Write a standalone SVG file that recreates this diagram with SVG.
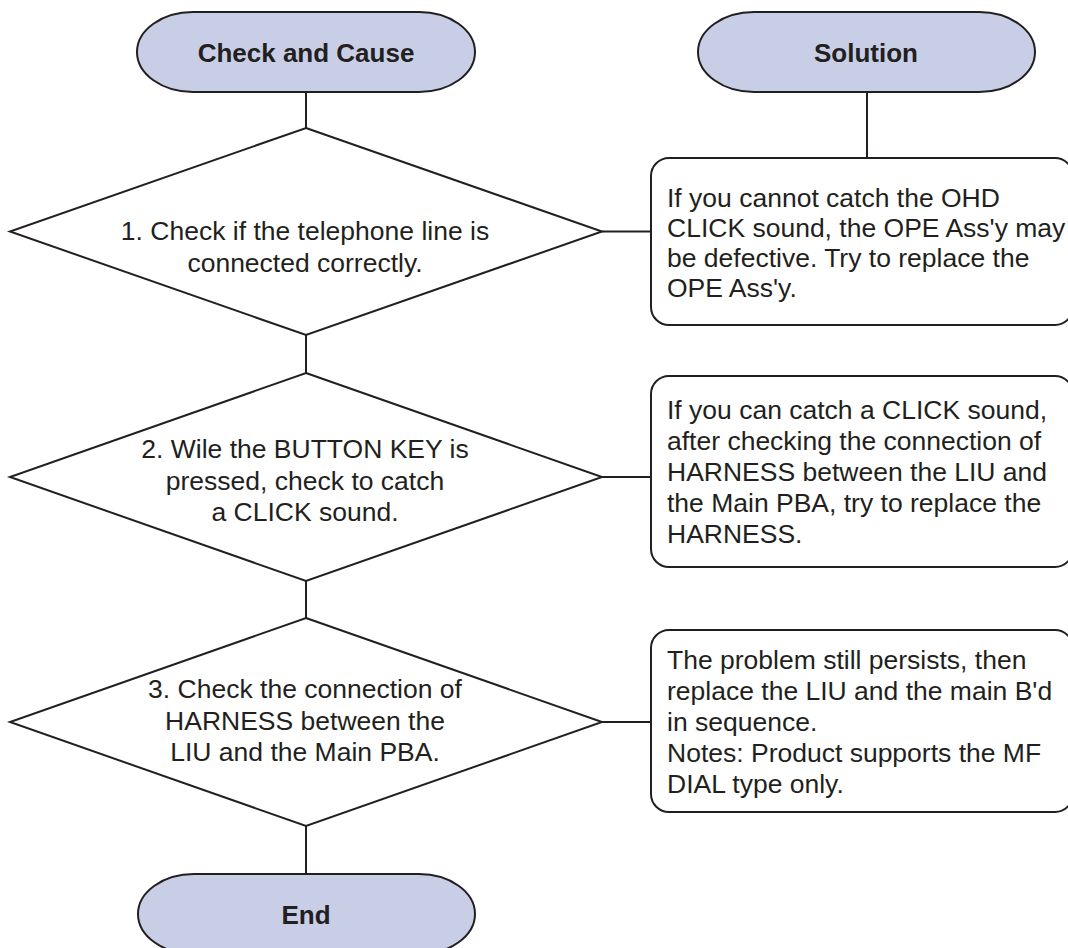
<svg xmlns="http://www.w3.org/2000/svg" width="1068" height="948" viewBox="0 0 1068 948">
<style>
.term{fill:#c9cee7;stroke:#231f20;stroke-width:2}
.dia{fill:#ffffff;stroke:#231f20;stroke-width:2}
.box{fill:#ffffff;stroke:#231f20;stroke-width:2}
.conn line{stroke:#231f20;stroke-width:2}
.tt{font-family:"Liberation Sans",Arial,sans-serif;font-weight:bold;font-size:26px;fill:#231f20;text-anchor:middle}
.bt{font-family:"Liberation Sans",Arial,sans-serif;font-size:26.5px;fill:#231f20}
.mid{text-anchor:middle}
</style>
<rect width="1068" height="948" fill="#ffffff"/>
<g class="conn" id="connectors">
<line x1="306" y1="92" x2="306" y2="128"/>
<line x1="867" y1="92" x2="867" y2="158"/>
<line x1="306" y1="335" x2="306" y2="373"/>
<line x1="306" y1="581" x2="306" y2="618"/>
<line x1="306" y1="826" x2="306" y2="874"/>
<line x1="602" y1="231.5" x2="651" y2="231.5"/>
<line x1="602" y1="477" x2="651" y2="477"/>
<line x1="602" y1="722" x2="651" y2="722"/>
</g>
<g id="start">
<rect class="term" x="137" y="12" width="338" height="80" rx="56" ry="40"/>
<text class="tt" x="306" y="62">Check and Cause</text>
</g>
<g id="solution">
<rect class="term" x="698" y="12" width="337" height="80" rx="56" ry="40"/>
<text class="tt" x="866" y="62">Solution</text>
</g>
<g id="check1">
<polygon class="dia" points="306,128 602,231.5 306,335 10,231.5"/>
<text class="bt mid" x="305" y="240">1. Check if the telephone line is</text>
<text class="bt mid" x="305" y="271.5">connected correctly.</text>
</g>
<g id="solution1">
<rect class="box" x="651" y="158" width="422" height="167" rx="18" ry="18"/>
<text class="bt" x="667" y="207">If you cannot catch the OHD</text>
<text class="bt" x="667" y="237">CLICK sound, the OPE Ass'y may</text>
<text class="bt" x="667" y="267">be defective. Try to replace the</text>
<text class="bt" x="667" y="297">OPE Ass'y.</text>
</g>
<g id="check2">
<polygon class="dia" points="306,373 602,477 306,581 10,477"/>
<text class="bt mid" x="305" y="458">2. Wile the BUTTON KEY is</text>
<text class="bt mid" x="305" y="489.5">pressed, check to catch</text>
<text class="bt mid" x="305" y="521">a CLICK sound.</text>
</g>
<g id="solution2">
<rect class="box" x="651" y="376" width="422" height="191" rx="18" ry="18"/>
<text class="bt" x="667" y="419">If you can catch a CLICK sound,</text>
<text class="bt" x="667" y="450">after checking the connection of</text>
<text class="bt" x="667" y="481">HARNESS between the LIU and</text>
<text class="bt" x="667" y="512">the Main PBA, try to replace the</text>
<text class="bt" x="667" y="543">HARNESS.</text>
</g>
<g id="check3">
<polygon class="dia" points="306,618 602,722 306,826 10,722"/>
<text class="bt mid" x="305" y="698">3. Check the connection of</text>
<text class="bt mid" x="305" y="729.5">HARNESS between the</text>
<text class="bt mid" x="305" y="761">LIU and the Main PBA.</text>
</g>
<g id="solution3">
<rect class="box" x="651" y="630" width="422" height="182" rx="18" ry="18"/>
<text class="bt" x="667" y="668.5">The problem still persists, then</text>
<text class="bt" x="667" y="699.5">replace the LIU and the main B'd</text>
<text class="bt" x="667" y="730.5">in sequence.</text>
<text class="bt" x="667" y="761.5">Notes: Product supports the MF</text>
<text class="bt" x="667" y="792.5">DIAL type only.</text>
</g>
<g id="end">
<rect class="term" x="138" y="874" width="337" height="80" rx="56" ry="40"/>
<text class="tt" x="306" y="924">End</text>
</g>
</svg>
